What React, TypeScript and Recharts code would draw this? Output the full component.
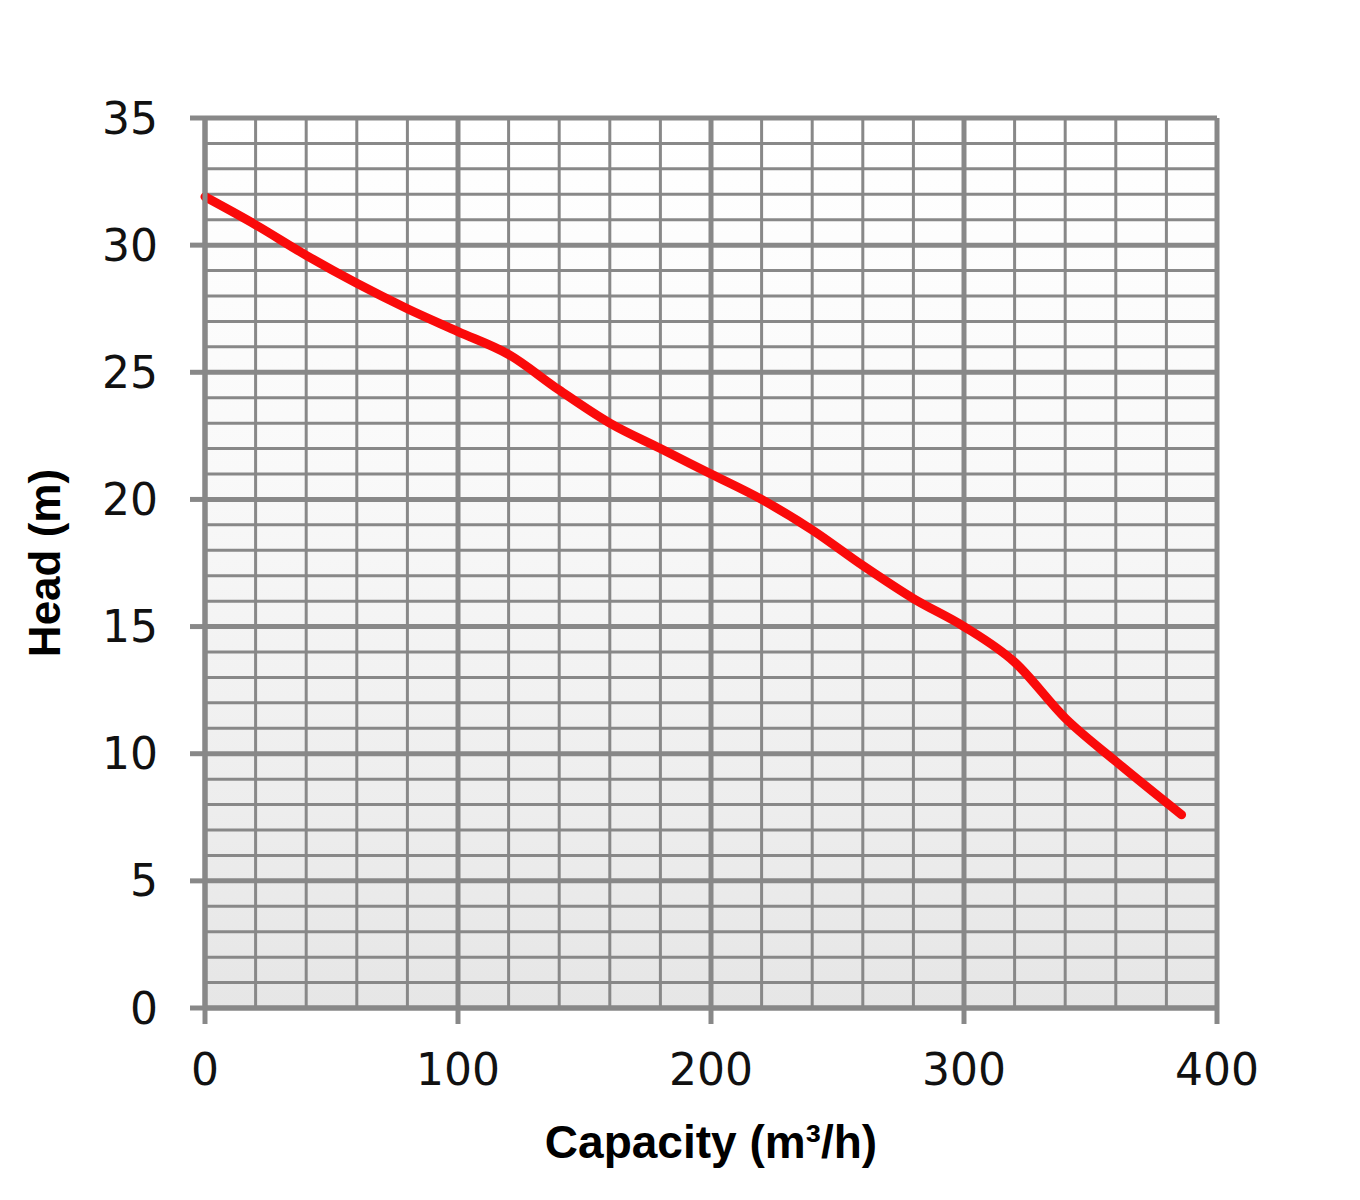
import {
  CartesianGrid,
  ComposedChart,
  Label,
  Line,
  XAxis,
  YAxis,
} from "recharts";

// pump curve: capacity (m³/h) vs head (m)
const capacity = [0, 20, 40, 60, 80, 100, 120, 140, 160, 180, 200, 220, 240, 260, 280, 300, 320, 340, 360, 386];
const head = [31.9, 30.8, 29.6, 28.5, 27.5, 26.6, 25.7, 24.3, 23.0, 22.0, 21.0, 20.0, 18.8, 17.4, 16.1, 15.0, 13.6, 11.4, 9.7, 7.6];

const xTicks = [0, 100, 200, 300, 400];
const yTicks = [0, 5, 10, 15, 20, 25, 30, 35];
const xMinor = [0, 20, 40, 60, 80, 100, 120, 140, 160, 180, 200, 220, 240, 260, 280, 300, 320, 340, 360, 380, 400];
const yMinor = [0, 1, 2, 3, 4, 5, 6, 7, 8, 9, 10, 11, 12, 13, 14, 15, 16, 17, 18, 19, 20, 21, 22, 23, 24, 25, 26, 27, 28, 29, 30, 31, 32, 33, 34, 35];

const chartData = capacity.map((c, i) => ({ capacity: c, head: head[i] }));

const gridColor = "#888888";
const tickFont = { fontFamily: "DejaVu Sans", fontSize: 44, fill: "#111111" };
const titleFont = "Liberation Sans, Arial, sans-serif";

const XTitle = (props: any) => {
  const { x, y, width } = props.viewBox;
  return (
    <text
      x={x + width / 2}
      y={y + 150}
      textAnchor="middle"
      fontFamily={titleFont}
      fontWeight="bold"
      fontSize={46}
      fill="#000"
    >
      Capacity (m³/h)
    </text>
  );
};

const YTitle = (props: any) => {
  const { y, height } = props.viewBox;
  const cx = 52;
  const cy = y + height / 2;
  return (
    <text
      x={cx}
      y={cy}
      transform={`rotate(-90, ${cx}, ${cy})`}
      textAnchor="middle"
      fontFamily={titleFont}
      fontWeight="bold"
      fontSize={44}
      fill="#000"
    >
      Head (m)
    </text>
  );
};

const App = () => {
  return (
    <ComposedChart
      width={1340}
      height={1180}
      data={chartData}
      margin={{ top: 110, right: 131, bottom: 0, left: 0 }}
    >
      <defs>
        <linearGradient id="plotBg" x1="0" y1="0" x2="0" y2="1">
          <stop offset="0%" stopColor="#ffffff" />
          <stop offset="40%" stopColor="#f9f9f9" />
          <stop offset="100%" stopColor="#e6e6e6" />
        </linearGradient>
      </defs>
      <CartesianGrid
        fill="url(#plotBg)"
        stroke={gridColor}
        strokeWidth={3}
        horizontalValues={yMinor}
        verticalValues={xMinor}
      />
      <CartesianGrid
        stroke={gridColor}
        strokeWidth={5}
        horizontalValues={yTicks}
        verticalValues={xTicks}
      />
      <XAxis
        dataKey="capacity"
        type="number"
        domain={[0, 400]}
        ticks={xTicks}
        height={180}
        axisLine={{ stroke: gridColor, strokeWidth: 5 }}
        tickLine={{ stroke: gridColor, strokeWidth: 5 }}
        tickSize={16}
        tickMargin={30}
        tick={tickFont}
        interval={0}
      >
        <Label content={XTitle} />
      </XAxis>
      <YAxis
        type="number"
        domain={[0, 35]}
        ticks={yTicks}
        width={197}
        axisLine={{ stroke: gridColor, strokeWidth: 5 }}
        tickLine={{ stroke: gridColor, strokeWidth: 5 }}
        tickSize={15}
        tickMargin={32}
        tick={tickFont}
        interval={0}
      >
        <Label content={YTitle} />
      </YAxis>
      <Line
        dataKey="head"
        type="monotone"
        stroke="#fa0a0a"
        strokeWidth={9}
        strokeLinecap="round"
        strokeLinejoin="round"
        dot={false}
        activeDot={false}
        isAnimationActive={false}
      />
    </ComposedChart>
  );
};

export default App;
